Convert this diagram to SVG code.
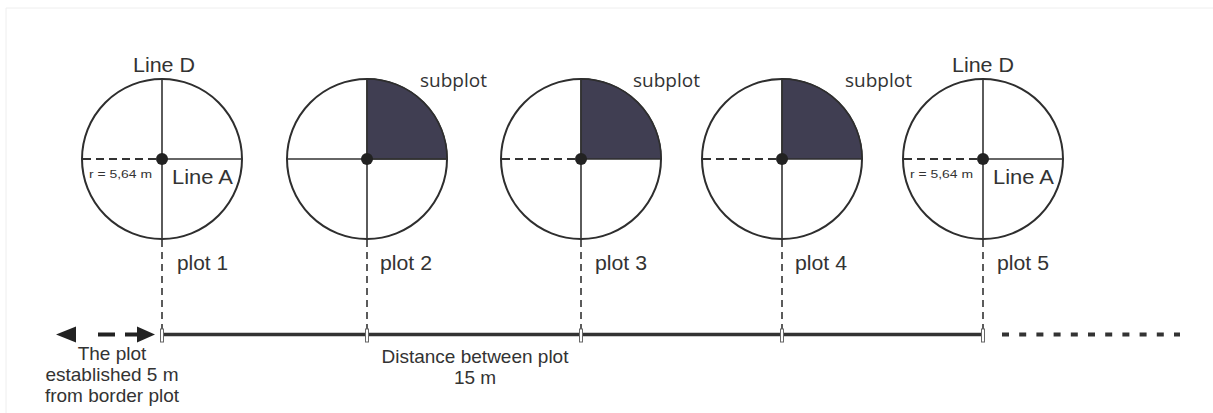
<svg xmlns="http://www.w3.org/2000/svg" width="1213" height="413" viewBox="0 0 1213 413">
  <style>
    .ring { fill: #fff; stroke: #2e2e2e; stroke-width: 2; }
    .axis { stroke: #333; stroke-width: 1.6; fill: none; }
    .radius { stroke: #333; stroke-width: 1.8; stroke-dasharray: 8 5; fill: none; }
    .hub { fill: #222; }
    .quad { fill: #403e52; stroke: #2e2e2e; stroke-width: 1.5; }
    .drop { stroke: #333; stroke-width: 1.6; stroke-dasharray: 7 5; fill: none; }
    .tick { fill: #fff; stroke: #666; stroke-width: 1; }
    .lbl { font-family: "Liberation Sans", Arial, sans-serif; fill: #333; font-size: 20px; }
    .small { font-family: "Liberation Sans", Arial, sans-serif; fill: #333; font-size: 11.5px; }
    .sub { font-family: "Open Sans", "Noto Sans", sans-serif; fill: #333; font-size: 19px; }
    .note { font-family: "Liberation Sans", Arial, sans-serif; fill: #333; font-size: 19px; text-anchor: middle; }
  </style>
  <defs>
    <!-- outline of a plot circle, centred on the origin -->
    <g id="ring">
      <circle class="ring" cx="0" cy="0" r="80"/>
    </g>
  </defs>

  <!-- faint page frame -->
  <path d="M6 413 V8 H1213" fill="none" stroke="#eeeeee" stroke-width="1"/>

  <g id="connectors">
    <!-- drop lines from each plot centre to the transect -->
    <line class="drop" x1="162" y1="240" x2="162" y2="330"/>
    <line class="drop" x1="367" y1="240" x2="367" y2="330"/>
    <line class="drop" x1="581" y1="240" x2="581" y2="330"/>
    <line class="drop" x1="782" y1="240" x2="782" y2="330"/>
    <line class="drop" x1="983" y1="240" x2="983" y2="330"/>
    <!-- transect line -->
    <line x1="162" y1="334.5" x2="983" y2="334.5" stroke="#333" stroke-width="3.5"/>
    <!-- continuation beyond the last plot -->
    <line x1="1002" y1="334.5" x2="1180" y2="334.5" stroke="#333" stroke-width="4" stroke-dasharray="7 10.2"/>
    <!-- 5 m border offset arrow -->
    <line x1="74" y1="334.5" x2="140" y2="334.5" stroke="#222" stroke-width="4" stroke-dasharray="0 24 17 10 17"/>
    <polygon points="56,334.5 76,326.5 76,342.5" fill="#222"/>
    <polygon points="155,334.5 137,326.5 137,342.5" fill="#222"/>
    <!-- plot markers on the transect -->
    <rect class="tick" x="160.5" y="329" width="3" height="13"/>
    <rect class="tick" x="365.5" y="329" width="3" height="13"/>
    <rect class="tick" x="579.5" y="329" width="3" height="13"/>
    <rect class="tick" x="780.5" y="329" width="3" height="13"/>
    <rect class="tick" x="981.5" y="329" width="3" height="13"/>
  </g>

  <g id="plot1">
    <use href="#ring" x="162" y="159"/>
    <line class="axis" x1="162" y1="79" x2="162" y2="239"/>
    <line class="axis" x1="162" y1="159" x2="242" y2="159"/>
    <line class="radius" x1="83" y1="159" x2="162" y2="159"/>
    <circle class="hub" cx="162" cy="159" r="6"/>
    <text class="lbl" x="133" y="72" textLength="62" lengthAdjust="spacingAndGlyphs">Line D</text>
    <text class="lbl" x="172" y="183.5" textLength="61" lengthAdjust="spacingAndGlyphs">Line A</text>
    <text class="small" x="89" y="178" textLength="63" lengthAdjust="spacingAndGlyphs">r = 5,64 m</text>
    <text class="lbl" x="177" y="270" textLength="51" lengthAdjust="spacingAndGlyphs">plot 1</text>
  </g>

  <g id="plot2">
    <use href="#ring" x="367" y="159"/>
    <path class="quad" d="M367 159 V79 A80 80 0 0 1 447 159 Z"/>
    <line class="axis" x1="367" y1="79" x2="367" y2="239"/>
    <line class="axis" x1="287" y1="159" x2="447" y2="159"/>
    <circle class="hub" cx="367" cy="159" r="6"/>
    <text class="sub" x="420" y="87">subplot</text>
    <text class="lbl" x="380" y="270" textLength="52" lengthAdjust="spacingAndGlyphs">plot 2</text>
  </g>

  <g id="plot3">
    <use href="#ring" x="581" y="159"/>
    <path class="quad" d="M581 159 V79 A80 80 0 0 1 661 159 Z"/>
    <line class="axis" x1="581" y1="79" x2="581" y2="239"/>
    <line class="radius" x1="502" y1="159" x2="581" y2="159"/>
    <circle class="hub" cx="581" cy="159" r="6"/>
    <text class="sub" x="633" y="87">subplot</text>
    <text class="lbl" x="595" y="270" textLength="52" lengthAdjust="spacingAndGlyphs">plot 3</text>
  </g>

  <g id="plot4">
    <use href="#ring" x="782" y="159"/>
    <path class="quad" d="M782 159 V79 A80 80 0 0 1 862 159 Z"/>
    <line class="axis" x1="782" y1="79" x2="782" y2="239"/>
    <line class="radius" x1="703" y1="159" x2="782" y2="159"/>
    <circle class="hub" cx="782" cy="159" r="6"/>
    <text class="sub" x="845" y="87">subplot</text>
    <text class="lbl" x="795" y="270" textLength="52" lengthAdjust="spacingAndGlyphs">plot 4</text>
  </g>

  <g id="plot5">
    <use href="#ring" x="983" y="159"/>
    <line class="axis" x1="983" y1="79" x2="983" y2="239"/>
    <line class="axis" x1="983" y1="159" x2="1063" y2="159"/>
    <line class="radius" x1="904" y1="159" x2="983" y2="159"/>
    <circle class="hub" cx="983" cy="159" r="6"/>
    <text class="lbl" x="952" y="72" textLength="62" lengthAdjust="spacingAndGlyphs">Line D</text>
    <text class="lbl" x="993" y="183.5" textLength="61" lengthAdjust="spacingAndGlyphs">Line A</text>
    <text class="small" x="910" y="178" textLength="63" lengthAdjust="spacingAndGlyphs">r = 5,64 m</text>
    <text class="lbl" x="997" y="270" textLength="52" lengthAdjust="spacingAndGlyphs">plot 5</text>
  </g>

  <g id="border-note">
    <text class="note" x="112" y="360">The plot</text>
    <text class="note" x="112" y="381">established 5 m</text>
    <text class="note" x="112" y="402">from border plot</text>
  </g>

  <g id="spacing-note">
    <text class="note" x="475" y="363">Distance between plot</text>
    <text class="note" x="475" y="384">15 m</text>
  </g>
</svg>
